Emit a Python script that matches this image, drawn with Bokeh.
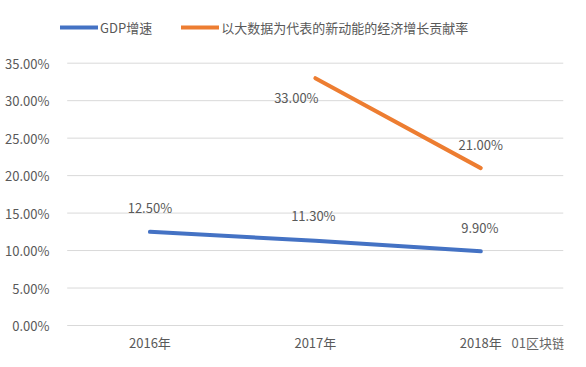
from bokeh.plotting import figure
from bokeh.models import (ColumnDataSource, Range1d, Legend, LegendItem,
                          NumeralTickFormatter, FixedTicker, Label)
from bokeh.core.properties import value
from bokeh.embed import file_html
from bokeh.resources import INLINE

# ---- data ----
years = ["2016年", "2017年", "2018年"]
gdp_growth = [0.125, 0.113, 0.099]
new_energy_contrib = [float("nan"), 0.33, 0.21]
gdp_labels = ["12.50%", "11.30%", "9.90%"]
new_labels = ["", "33.00%", "21.00%"]
y_ticks = [0.0, 0.05, 0.10, 0.15, 0.20, 0.25, 0.30, 0.35]
series_names = ["GDP增速", "以大数据为代表的新动能的经济增长贡献率"]

FONT = "Noto Sans CJK SC"
TXT = "#595959"
BLUE = "#4472C4"
ORANGE = "#ED7D31"

W, H = 586, 367
# frame (page px) is larger than the visible plot area so the legend/watermark are not clipped
F_LEFT, F_RIGHT, F_TOP, F_BOT = 58, 563, 2, 360
# visible plot area (page px)
A_LEFT, A_RIGHT, A_BOT, A_TOPTICK = 66.7, 563, 325, 62.7

n = len(years)
xpos = [i + 0.5 for i in range(n)]
px_per_x = (A_RIGHT - A_LEFT) / n
x_start = -(A_LEFT - F_LEFT) / px_per_x
x_end = n + (F_RIGHT - A_RIGHT) / px_per_x
px_per_y = (A_BOT - A_TOPTICK) / y_ticks[-1]
y_start = -(F_BOT - A_BOT) / px_per_y
y_end = (A_BOT - F_TOP) / px_per_y

p = figure(width=W, height=H, x_range=Range1d(x_start, x_end),
           y_range=Range1d(y_start, y_end), output_backend="svg", toolbar_location=None,
           min_border_left=F_LEFT, min_border_right=W - F_RIGHT, min_border_top=F_TOP,
           min_border_bottom=H - F_BOT)
p.outline_line_color = None
p.background_fill_color = "white"
p.border_fill_color = "white"
p.xaxis.visible = False
p.xgrid.grid_line_color = None
p.ygrid.grid_line_color = None

# y axis
p.yaxis.ticker = FixedTicker(ticks=y_ticks)
p.yaxis.formatter = NumeralTickFormatter(format="0.00%")
yax = p.yaxis[0]
yax.axis_line_color = None
yax.major_tick_line_color = None
yax.minor_tick_line_color = None
yax.major_label_text_color = TXT
yax.major_label_text_font = FONT
yax.major_label_text_font_size = "13px"
yax.major_label_standoff = 3

# horizontal gridlines across the category area
p.segment(x0=[0] * len(y_ticks), x1=[n] * len(y_ticks), y0=y_ticks, y1=y_ticks,
          line_color="#d9d9d9", line_width=1)

src = ColumnDataSource(dict(x=xpos, cat=years, gdp=gdp_growth, new=new_energy_contrib,
                            gl=gdp_labels, nl=new_labels, zero=[0] * n))

# category labels
p.text("x", "zero", text="cat", source=src, y_offset=17, text_align="center",
       text_baseline="middle", text_color=TXT, text_font=value(FONT), text_font_size="13px")

r1 = p.line("x", "gdp", source=src, line_color=BLUE, line_width=4, line_cap="round")
r2 = p.line("x", "new", source=src, line_color=ORANGE, line_width=4, line_cap="round")

# data labels (offsets are styling, not data)
src.data["gdx"] = [0, -2, -1]
src.data["gdy"] = [-24, -25, -24]
src.data["ndx"] = [0, -19, 0]
src.data["ndy"] = [0, 19, -24]
p.text("x", "gdp", text="gl", source=src, x_offset="gdx", y_offset="gdy",
       text_align="center", text_baseline="middle", text_color=TXT,
       text_font=value(FONT), text_font_size="13px")
p.text("x", "new", text="nl", source=src, x_offset="ndx", y_offset="ndy",
       text_align="center", text_baseline="middle", text_color=TXT,
       text_font=value(FONT), text_font_size="13px")

legend = Legend(items=[LegendItem(label=series_names[0], renderers=[r1]),
                       LegendItem(label=series_names[1], renderers=[r2])],
                location=(60 - F_LEFT, F_BOT - 37), orientation="horizontal",
                padding=0, margin=0, spacing=29, glyph_width=38, glyph_height=20,
                label_standoff=2, border_line_color=None, background_fill_alpha=0,
                label_text_font=FONT, label_text_font_size="13px", label_text_color=TXT)
p.add_layout(legend, "center")

wm = Label(x=511 - F_LEFT, y=F_BOT - 342, x_units="screen", y_units="screen", text="01区块链",
           text_font=FONT, text_font_size="13px", text_color="#666666",
           text_baseline="middle",
           background_fill_color="white", background_fill_alpha=0.6)
p.add_layout(wm)

open("out.html", "w").write(file_html(p, INLINE))
